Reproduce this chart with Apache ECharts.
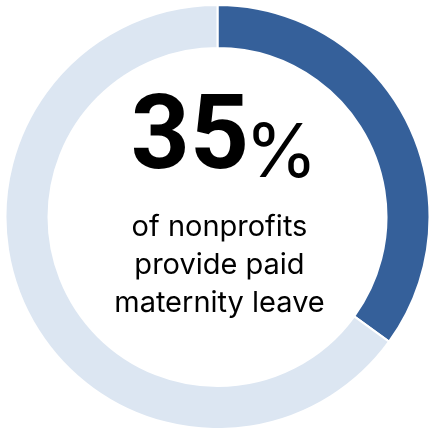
<!DOCTYPE html>
<html>
<head>
<meta charset="utf-8">
<script src="https://cdn.jsdelivr.net/npm/echarts@6/dist/echarts.min.js"></script>
<style>
  html, body { margin: 0; padding: 0; background: #ffffff; }
  #chart { width: 429px; height: 428px; }
</style>
</head>
<body>
<div id="chart"></div>
<script>
// Share of nonprofits offering paid maternity leave
const categories = ['Provide paid maternity leave', 'Do not provide paid maternity leave'];
const shares = [35, 65];
const captionLines = ['of nonprofits', 'provide paid', 'maternity leave'];

const ringColors = ['#35609a', '#dce6f2'];
const cx = 217.5, cy = 217;

const chart = echarts.init(document.getElementById('chart'), null, { renderer: 'canvas' });

const graphics = [
  {
    // headline figure, right edge meets the percent sign
    type: 'text',
    x: 249,
    y: 142,
    style: {
      text: String(shares[0]),
      align: 'right',
      verticalAlign: 'middle',
      fontFamily: 'Roboto',
      fontWeight: 'bold',
      fontSize: 103,
      letterSpacing: 1,
      fill: '#000'
    }
  },
  {
    type: 'text',
    x: 245,
    y: 155,
    style: {
      text: '%',
      align: 'left',
      verticalAlign: 'middle',
      fontFamily: 'Inter',
      fontWeight: 'normal',
      fontSize: 74,
      fill: '#000'
    }
  }
];
captionLines.forEach((line, i) => {
  graphics.push({
    type: 'text',
    x: cx + 2,
    y: 227 + i * 38,
    style: {
      text: line,
      align: 'center',
      verticalAlign: 'middle',
      fontFamily: 'Inter',
      fontSize: 29,
      fill: '#000'
    }
  });
});

chart.setOption({
  animation: false,
  backgroundColor: '#ffffff',
  series: [{
    type: 'pie',
    radius: [169, 212],
    center: [cx, cy],
    startAngle: 90,
    clockwise: true,
    silent: true,
    label: { show: false },
    labelLine: { show: false },
    itemStyle: { borderColor: '#ffffff', borderWidth: 2 },
    data: categories.map((name, i) => ({
      name: name,
      value: shares[i],
      itemStyle: { color: ringColors[i] }
    }))
  }],
  graphic: graphics
});
</script>
</body>
</html>
